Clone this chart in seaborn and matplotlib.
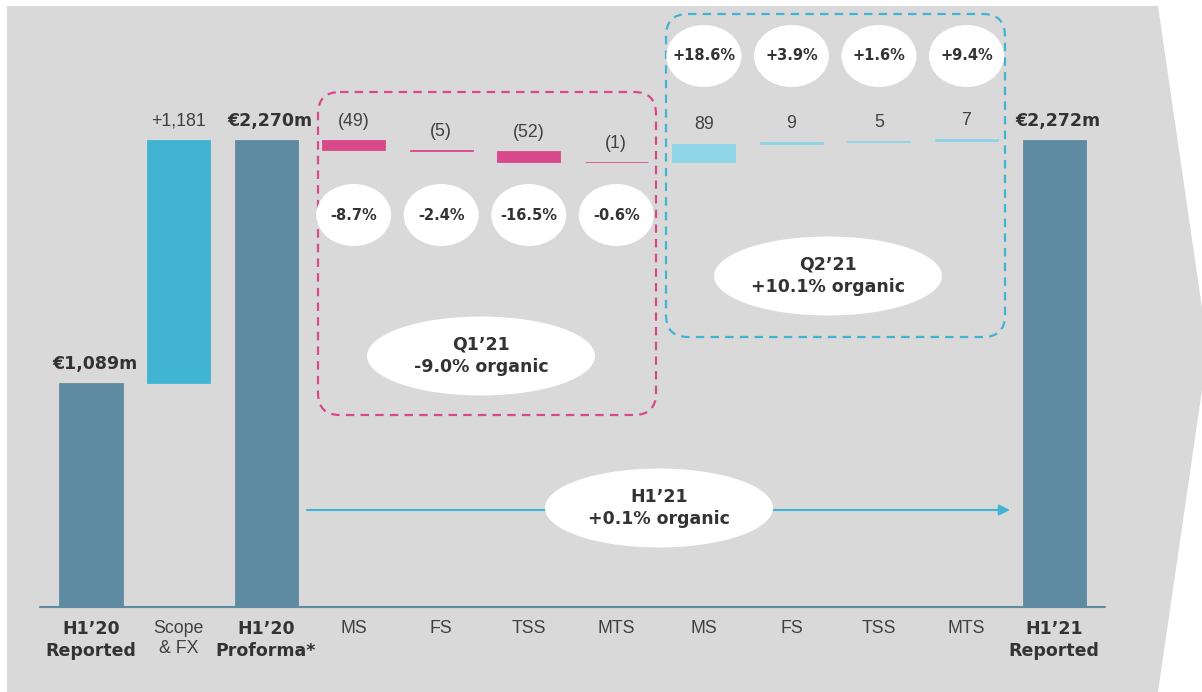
import numpy as np
import pandas as pd
import matplotlib
matplotlib.use("Agg")
import matplotlib.pyplot as plt
import matplotlib.transforms as mtrans
from matplotlib.patches import Polygon, Ellipse, FancyBboxPatch
import seaborn as sns

# ---------------- data ----------------
categories = ["H1’20\nReported", "Scope\n& FX", "H1’20\nProforma*",
              "MS", "FS", "TSS", "MTS", "MS", "FS", "TSS", "MTS",
              "H1’21\nReported"]
bar_kind = ["total", "step", "total", "q1", "q1", "q1", "q1",
            "q2", "q2", "q2", "q2", "total"]
values = [1089, 1181, 2270, -49, -5, -52, -1, 89, 9, 5, 7, 2272]
value_labels = ["€1,089m", "+1,181", "€2,270m", "(49)", "(5)", "(52)", "(1)",
                "89", "9", "5", "7", "€2,272m"]
q1_growth = ["-8.7%", "-2.4%", "-16.5%", "-0.6%"]
q2_growth = ["+18.6%", "+3.9%", "+1.6%", "+9.4%"]
q1_total = "Q1’21\n-9.0% organic"
q2_total = "Q2’21\n+10.1% organic"
h1_total = "H1’21\n+0.1% organic"

# ---------------- styles ----------------
C_TOTAL = "#5e8ba1"
C_STEP = "#42b4d3"
C_Q1 = "#d9488a"
C_Q2 = "#8fd4e7"
C_BG = "#d9d9d9"
C_TXT = "#404040"
C_BOLD = "#333333"
kind_color = {"total": C_TOTAL, "step": C_STEP, "q1": C_Q1, "q2": C_Q2}
bold_cats = {0, 2, 11}

sns.set_style("white")
plt.rcParams['font.family'] = ['Liberation Sans', 'DejaVu Sans']

# waterfall geometry
bottoms, heights, tops = [], [], []
running = 0
for k, v in zip(bar_kind, values):
    if k == "total":
        b, h = 0, v
        running = v
    else:
        b, h = min(running, running + v), abs(v)
        running += v
    bottoms.append(b)
    heights.append(h)
    tops.append(b + h)

df = pd.DataFrame({"key": [f"c{i}" for i in range(len(values))],
                   "height": heights})

W, H = 1202, 692
fig = plt.figure(figsize=(W / 100, H / 100), dpi=100)
fig.patch.set_facecolor("white")

# background (pixel coordinates)
bg = fig.add_axes([0, 0, 1, 1], zorder=0)
bg.set_xlim(0, W)
bg.set_ylim(H, 0)
bg.axis("off")
bg.add_patch(Polygon([(7, 6), (1158, 6), (1208, 349), (1158, 692), (7, 692)],
                     closed=True, facecolor=C_BG, edgecolor="none", zorder=0))

# main axes: baseline at pixel 607, bar centers 87.55 px apart starting at 91
base_px = 607
step_px = 87.55
x0_px = 91
units_per_px = 2270 / (base_px - 140)
ax = fig.add_axes([0, (H - base_px) / H, 1, base_px / H], zorder=1)
ax.patch.set_alpha(0)

sns.barplot(data=df, x="key", y="height", bottom=bottoms, width=0.72,
            errorbar=None, color=C_TOTAL, ax=ax)
for p, k in zip(ax.patches, bar_kind):
    p.set_facecolor(kind_color[k])
    p.set_edgecolor(kind_color[k])
    p.set_linewidth(0.6)

ax.set_xlim(-x0_px / step_px, (W - x0_px) / step_px)
ax.set_ylim(0, base_px * units_per_px)
for s in ax.spines.values():
    s.set_visible(False)
ax.set_yticks([])
ax.set_xlabel("")
ax.set_ylabel("")
ax.set_xticks(range(len(categories)))
ax.set_xticklabels(categories)
ax.tick_params(axis="x", length=0, pad=9.5)
for i, t in enumerate(ax.get_xticklabels()):
    t.set_linespacing(1.25)
    if i in bold_cats:
        t.set_fontfamily("DejaVu Sans")
        t.set_fontweight("bold")
        t.set_fontsize(12.5)
        t.set_color(C_BOLD)
    else:
        t.set_fontsize(12.8)
        t.set_color(C_TXT)

ax.axhline(0, xmin=40 / W, xmax=1105 / W, color=C_TOTAL, lw=1.5, clip_on=False)

# value labels
for i, (lab, top) in enumerate(zip(value_labels, tops)):
    if i in bold_cats:
        ax.annotate(lab, xy=(i, top), xytext=(3, 13.5), textcoords="offset points",
                    ha="center", va="center", fontsize=12.5, fontweight="bold",
                    family="DejaVu Sans", color=C_BOLD)
    else:
        ax.annotate(lab, xy=(i, top), xytext=(0, 13.5), textcoords="offset points",
                    ha="center", va="center", fontsize=12.8, color=C_TXT)

# decorations: x in category units, y in pixels
blend = mtrans.blended_transform_factory(ax.transData, bg.transData)

def dashed_box(x, y, w, h, color):
    bg.add_patch(FancyBboxPatch((x, y), w, h,
                                boxstyle="round,pad=0,rounding_size=22",
                                facecolor="none", edgecolor=color, lw=1.6,
                                linestyle=(0, (3.8, 2.8)), zorder=1))

dashed_box(318, 92, 338, 323, C_Q1)
dashed_box(666, 14, 339, 323, C_STEP)

ell_w = 75 / step_px
for j, g in enumerate(q1_growth):
    xi = 3 + j
    bg.add_patch(Ellipse((xi, 215), ell_w, 62, transform=blend,
                         facecolor="white", edgecolor="none", zorder=3))
    bg.text(xi, 215, g, transform=blend, ha="center", va="center",
            fontsize=10.5, fontweight="bold", family="DejaVu Sans",
            color=C_BOLD, zorder=4)
for j, g in enumerate(q2_growth):
    xi = 7 + j
    bg.add_patch(Ellipse((xi, 56), ell_w, 62, transform=blend,
                         facecolor="white", edgecolor="none", zorder=3))
    bg.text(xi, 56, g, transform=blend, ha="center", va="center",
            fontsize=10.5, fontweight="bold", family="DejaVu Sans",
            color=C_BOLD, zorder=4)

# H1 arrow (below the ellipse)
bg.annotate("", xy=(1010, 510), xytext=(307, 510),
            arrowprops=dict(arrowstyle="-|>", color=C_STEP, lw=1.5,
                            mutation_scale=16, shrinkA=0, shrinkB=0),
            zorder=2)

for (cx, cy), txt in [((481, 356), q1_total), ((828, 276), q2_total),
                      ((659, 508), h1_total)]:
    bg.add_patch(Ellipse((cx, cy), 228, 79, facecolor="white",
                         edgecolor="none", zorder=3))
    bg.text(cx, cy, txt, ha="center", va="center", fontsize=12.5,
            fontweight="bold", family="DejaVu Sans", color=C_BOLD,
            linespacing=1.3, zorder=4)

fig.savefig("out.png", dpi=100, facecolor="white")
